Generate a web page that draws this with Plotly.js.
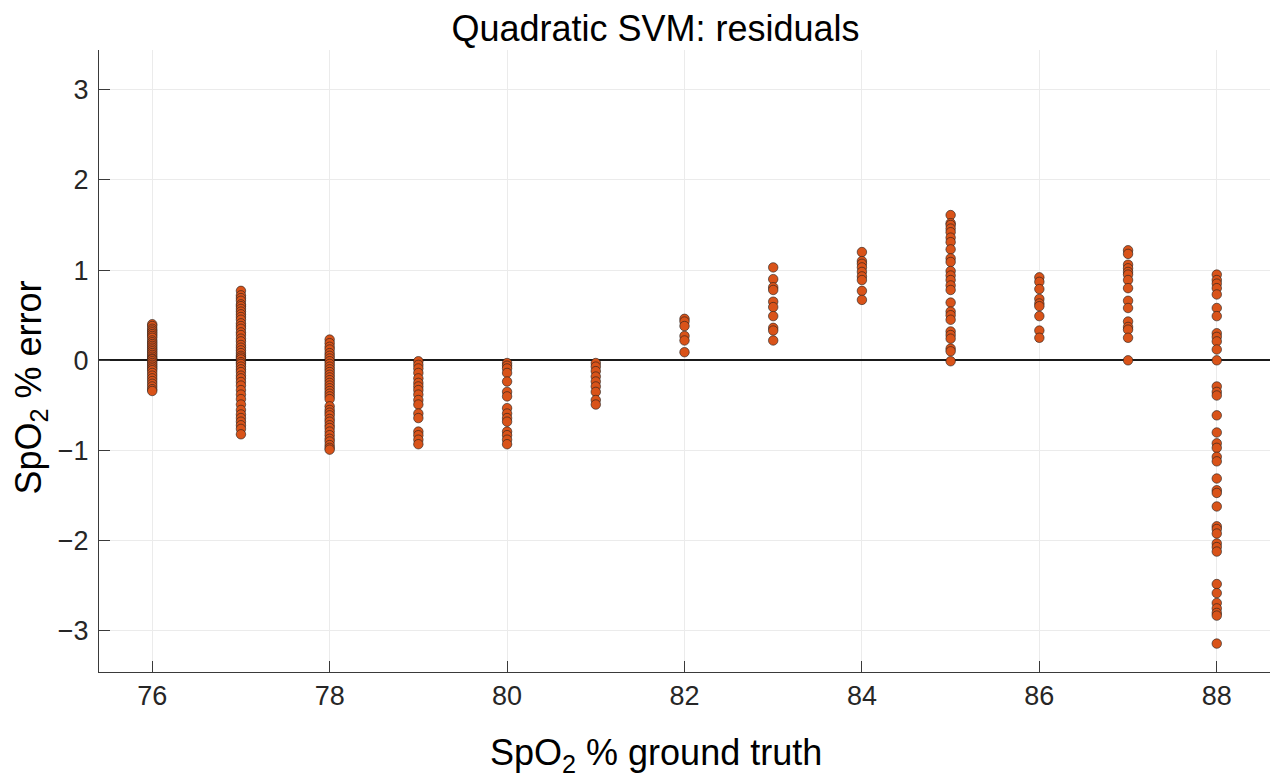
<!DOCTYPE html>
<html>
<head>
<meta charset="utf-8">
<script src="https://cdn.plot.ly/plotly-3.0.1.min.js"></script>
<style>
  html, body { margin: 0; padding: 0; background: #fff; }
  #chart { width: 1271px; height: 779px; }
</style>
</head>
<body>
<div id="chart"></div>
<script>
// Ground-truth SpO2 levels (%) and the model residuals observed at each level
const groundTruth = [76, 77, 78, 79, 80, 81, 82, 83, 84, 85, 86, 87, 88];

const res76 = [0.40, 0.38, 0.35, 0.33, 0.31, 0.29, 0.27, 0.25, 0.22, 0.20, 0.18, 0.16, 0.14, 0.12, 0.10,
               0.08, 0.06, 0.04, 0.02, 0.01, -0.01, -0.03, -0.05, -0.07, -0.09, -0.11, -0.14, -0.17,
               -0.20, -0.23, -0.26, -0.29, -0.32, -0.34];
const res77 = [0.77, 0.72, 0.69, 0.66, 0.62, 0.60, 0.57, 0.54, 0.51, 0.48, 0.45, 0.41, 0.38, 0.35, 0.31,
               0.28, 0.24, 0.21, 0.17, 0.14, 0.11, 0.08, 0.05, 0.03, 0.01, -0.02, -0.04, -0.07, -0.10,
               -0.13, -0.17, -0.20, -0.24, -0.28, -0.33, -0.38, -0.43, -0.49, -0.55, -0.60, -0.64,
               -0.68, -0.72, -0.76, -0.82];
const res78 = [0.23, 0.19, 0.15, 0.12, 0.08, 0.05, 0.02, -0.01, -0.04, -0.07, -0.10, -0.13, -0.16, -0.19,
               -0.22, -0.25, -0.28, -0.31, -0.34, -0.37, -0.40, -0.43, -0.51, -0.55, -0.58, -0.61,
               -0.65, -0.68, -0.72, -0.75, -0.79, -0.83, -0.87, -0.90, -0.94, -0.97, -0.99];
const res79 = [-0.01, -0.05, -0.09, -0.14, -0.20, -0.25, -0.29, -0.33, -0.38, -0.44, -0.49, -0.59, -0.64,
               -0.79, -0.83, -0.88, -0.93];
const res80 = [-0.03, -0.06, -0.09, -0.14, -0.235, -0.35, -0.40, -0.53, -0.59, -0.64, -0.68, -0.79, -0.83,
               -0.88, -0.93];
const res81 = [-0.03, -0.07, -0.12, -0.18, -0.235, -0.29, -0.35, -0.44, -0.49];
const res82 = [0.46, 0.43, 0.38, 0.27, 0.22, 0.09];
const res83 = [1.03, 0.90, 0.81, 0.78, 0.65, 0.59, 0.49, 0.36, 0.33, 0.22];
const res84 = [1.20, 1.10, 1.07, 1.03, 0.98, 0.93, 0.89, 0.77, 0.67];
const res85 = [1.61, 1.52, 1.50, 1.46, 1.42, 1.36, 1.31, 1.23, 1.13, 1.09, 0.99, 0.94, 0.89, 0.83, 0.78,
               0.64, 0.54, 0.50, 0.45, 0.32, 0.28, 0.24, 0.13, 0.10, -0.01];
const res86 = [0.92, 0.87, 0.79, 0.68, 0.63, 0.60, 0.49, 0.33, 0.25];
const res87 = [1.22, 1.18, 1.06, 1.02, 0.98, 0.95, 0.89, 0.80, 0.66, 0.58, 0.43, 0.37, 0.34, 0.25, 0.00];
const res88 = [0.95, 0.89, 0.85, 0.80, 0.73, 0.58, 0.49, 0.30, 0.26, 0.21, 0.12, 0.00, -0.29, -0.35, -0.39,
               -0.61, -0.80, -0.92, -0.97, -1.07, -1.12, -1.31, -1.44, -1.47, -1.62, -1.84, -1.87, -1.92,
               -2.03, -2.07, -2.12, -2.48, -2.58, -2.69, -2.75, -2.80, -2.83, -3.14];

const residualsByLevel = [res76, res77, res78, res79, res80, res81, res82, res83, res84, res85, res86, res87, res88];

const xTicks = [76, 78, 80, 82, 84, 86, 88];
const yTicks = [-3, -2, -1, 0, 1, 2, 3];

// Flatten into x/y pairs for a single scatter trace
const xs = [];
const ys = [];
residualsByLevel.forEach((vals, i) => {
  vals.forEach(v => { xs.push(groundTruth[i]); ys.push(v); });
});

const FONT = '"Liberation Sans", Arial, Helvetica, sans-serif';
const AXIS_COLOR = '#3a3a3a';
const GRID_COLOR = '#ebebeb';
const W = 1271, H = 779;

const trace = {
  type: 'scatter',
  mode: 'markers',
  x: xs,
  y: ys,
  marker: {
    symbol: 'circle',
    size: 9.5,
    color: 'rgb(217,83,25)',
    line: { color: 'rgba(30,30,30,0.75)', width: 0.8 }
  },
  hoverinfo: 'x+y',
  showlegend: false
};

const axisCommon = {
  ticks: 'inside',
  ticklen: 11,
  tickwidth: 1,
  tickcolor: AXIS_COLOR,
  showline: true,
  linecolor: AXIS_COLOR,
  linewidth: 1,
  mirror: false,
  showgrid: true,
  gridcolor: GRID_COLOR,
  gridwidth: 1,
  tickfont: { family: FONT, size: 27, color: '#262626' }
};

const layout = {
  width: W,
  height: H,
  paper_bgcolor: '#ffffff',
  plot_bgcolor: '#ffffff',
  margin: { l: 98.5, r: 1, t: 50, b: 107, autoexpand: false },
  font: { family: FONT, color: '#262626' },
  title: {
    text: 'Quadratic SVM: residuals',
    font: { family: FONT, size: 36, color: '#000000' },
    x: 655.5 / W, xanchor: 'center',
    y: 1 - 28 / H, yref: 'container', yanchor: 'middle'
  },
  xaxis: Object.assign({}, axisCommon, {
    range: [75.4, 88.6],
    tickvals: xTicks,
    ticktext: xTicks.map(String),
    zeroline: false,
    ticklabelstandoff: 0
  }),
  yaxis: Object.assign({}, axisCommon, {
    range: [-3.455, 3.44],
    tickvals: yTicks,
    zeroline: true,
    zerolinecolor: '#1a1a1a',
    zerolinewidth: 2,
    ticklabelstandoff: 4
  }),
  annotations: [
    {
      // horizontal axis title
      text: 'SpO<sub>2</sub> % ground truth',
      xref: 'paper', yref: 'paper',
      x: (656 - 98.5) / (1270 - 98.5), y: -(755 - 672) / (672 - 50),
      xanchor: 'center', yanchor: 'middle',
      showarrow: false,
      font: { family: FONT, size: 36, color: '#000000' }
    },
    {
      // vertical axis title
      text: 'SpO<sub>2</sub> % error',
      xref: 'paper', yref: 'paper',
      x: -(98.5 - 30) / (1270 - 98.5), y: (672 - 388) / (672 - 50),
      xanchor: 'center', yanchor: 'middle',
      textangle: -90,
      showarrow: false,
      font: { family: FONT, size: 36, color: '#000000' }
    }
  ]
};

Plotly.newPlot('chart', [trace], layout, { displayModeBar: false, staticPlot: true });
</script>
</body>
</html>
